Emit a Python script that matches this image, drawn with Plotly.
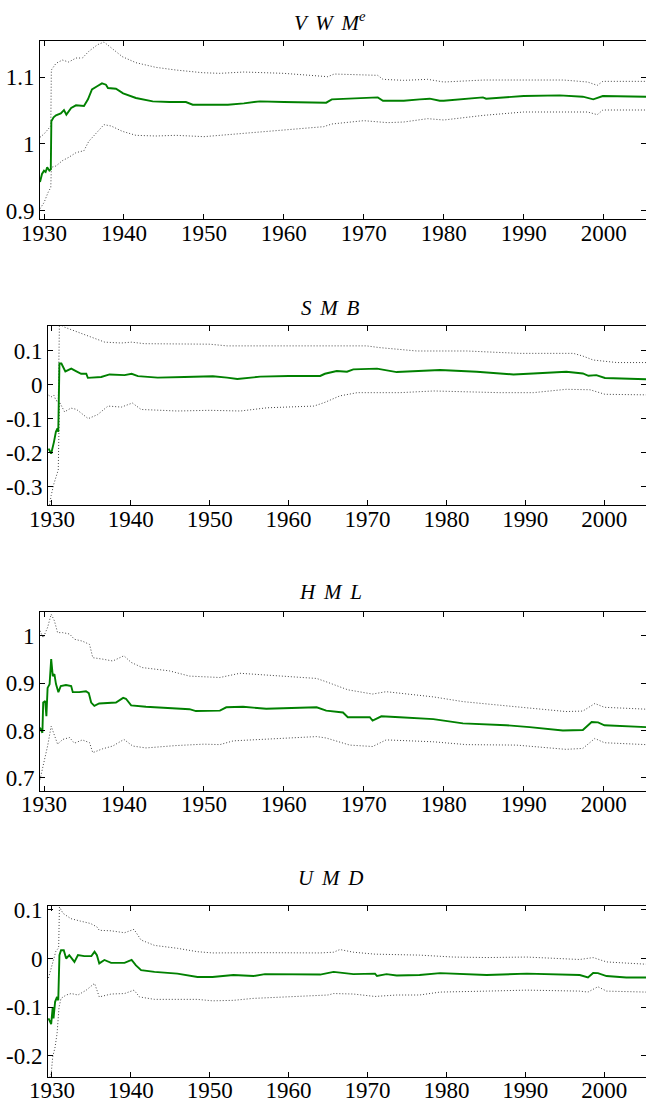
import plotly.graph_objects as go

# ---------------- data ----------------
vwm_t = [1929.5, 1929.75, 1930.0, 1930.2, 1930.4, 1930.67, 1930.85, 1930.92, 1931.2, 1931.5,
         1932.1, 1932.5, 1932.8, 1933.1, 1933.4, 1934.0, 1934.6, 1935.0, 1935.5, 1936.0,
         1936.7, 1937.25, 1937.75, 1938.0, 1939.0, 1939.9, 1941.5, 1943.6, 1945.7, 1947.75,
         1948.6, 1950.3, 1953.0, 1955.0, 1957.0, 1960.0, 1965.0, 1965.3, 1966.0, 1970.0,
         1971.75, 1972.4, 1975.0, 1977.0, 1978.25, 1979.5, 1980.0, 1984.9, 1985.3, 1990.0,
         1994.5, 1997.4, 1998.7, 1999.9, 2002.0, 2005.3]
vwm_est = [0.943, 0.955, 0.960, 0.958, 0.965, 0.960, 0.962, 1.034, 1.040, 1.043,
           1.046, 1.051, 1.044, 1.050, 1.054, 1.058, 1.058, 1.057, 1.067, 1.082,
           1.087, 1.091, 1.089, 1.084, 1.083, 1.076, 1.069, 1.064, 1.063, 1.063,
           1.059, 1.059, 1.059, 1.061, 1.064, 1.063, 1.063, 1.062, 1.067, 1.069,
           1.070, 1.065, 1.065, 1.067, 1.068, 1.065, 1.065, 1.070, 1.068, 1.072,
           1.073, 1.071, 1.067, 1.072, 1.072, 1.071]
vwm_hi_t = [1929.5, 1930.0, 1930.5, 1930.85, 1930.92, 1931.5, 1932.3, 1933.1, 1934.0, 1934.8,
            1935.6, 1936.7, 1937.5, 1938.4, 1939.8, 1941.5, 1944.0, 1946.5, 1949.8, 1952.0,
            1955.0, 1960.0, 1965.0, 1965.5, 1966.3, 1970.0, 1971.75, 1972.4, 1975.0, 1978.0,
            1980.0, 1985.0, 1990.0, 1995.0, 1998.0, 1999.2, 1999.9, 2005.3]
vwm_hi = [1.010, 1.015, 1.022, 1.027, 1.111, 1.121, 1.126, 1.123, 1.129, 1.129,
          1.139, 1.149, 1.153, 1.144, 1.131, 1.122, 1.115, 1.111, 1.107, 1.106,
          1.108, 1.106, 1.101, 1.101, 1.105, 1.104, 1.103, 1.097, 1.0955, 1.097,
          1.093, 1.096, 1.096, 1.096, 1.093, 1.088, 1.094, 1.094]
vwm_lo_t = [1929.5, 1930.0, 1930.5, 1930.85, 1930.92, 1931.5, 1932.3, 1933.1, 1934.0, 1935.0,
            1935.6, 1936.7, 1937.5, 1938.4, 1939.8, 1941.5, 1944.0, 1946.5, 1950.0, 1955.0,
            1960.0, 1965.0, 1966.0, 1970.0, 1973.0, 1975.0, 1978.0, 1980.0, 1985.0, 1990.0,
            1995.0, 1998.0, 1999.2, 1999.9, 2005.3]
vwm_lo = [0.903, 0.912, 0.927, 0.935, 0.965, 0.967, 0.975, 0.980, 0.987, 0.990,
          1.004, 1.019, 1.029, 1.027, 1.019, 1.013, 1.012, 1.013, 1.011, 1.016,
          1.021, 1.026, 1.030, 1.035, 1.032, 1.033, 1.038, 1.036, 1.043, 1.048,
          1.048, 1.048, 1.044, 1.051, 1.051]

smb_t = [1929.58, 1929.9, 1930.25, 1930.5, 1930.7, 1930.8, 1930.95, 1931.2, 1931.7, 1932.45,
         1933.1, 1933.7, 1934.35, 1934.55, 1936.25, 1937.3, 1939.2, 1940.1, 1940.9, 1943.4,
         1946.8, 1948.8, 1950.4, 1952.2, 1953.5, 1956.4, 1960.0, 1964.0, 1964.6, 1966.1,
         1967.4, 1968.2, 1971.2, 1973.7, 1979.2, 1983.85, 1988.5, 1991.0, 1995.2, 1997.3,
         1998.0, 1999.0, 2000.1, 2005.3]
smb_est = [-0.187, -0.202, -0.168, -0.138, -0.128, -0.138, 0.063, 0.063, 0.040, 0.048,
           0.040, 0.033, 0.033, 0.021, 0.0235, 0.031, 0.029, 0.033, 0.026, 0.0216,
           0.0235, 0.0245, 0.0255, 0.0216, 0.0176, 0.0245, 0.0265, 0.0265, 0.033, 0.041,
           0.039, 0.046, 0.048, 0.038, 0.044, 0.039, 0.031, 0.034, 0.039, 0.034,
           0.027, 0.029, 0.0206, 0.017]
smb_hi_t = [1929.58, 1929.9, 1930.25, 1930.5, 1930.8, 1930.95, 1931.6, 1933.3, 1935.0, 1936.7,
            1938.8, 1940.1, 1941.7, 1945.9, 1950.0, 1952.2, 1961.5, 1969.9, 1971.5, 1976.25,
            1982.6, 1989.3, 1996.1, 1997.3, 1998.6, 2001.6, 2005.3]
smb_hi = [-0.030, -0.035, -0.030, -0.045, -0.050, 0.180, 0.170, 0.156, 0.141, 0.126,
          0.1235, 0.126, 0.1215, 0.120, 0.120, 0.115, 0.115, 0.115, 0.110, 0.100,
          0.100, 0.093, 0.093, 0.085, 0.0735, 0.066, 0.066]
smb_lo_t = [1929.58, 1929.9, 1930.25, 1930.5, 1930.8, 1930.95, 1931.6, 1932.4, 1933.1, 1934.6,
            1935.8, 1937.1, 1938.8, 1940.2, 1941.3, 1945.9, 1950.0, 1953.9, 1957.3, 1963.2,
            1964.5, 1966.5, 1968.7, 1974.1, 1978.4, 1986.8, 1991.0, 1995.2, 1998.2, 2000.1,
            2005.3]
smb_lo = [-0.370, -0.325, -0.290, -0.270, -0.250, -0.050, -0.079, -0.068, -0.0716, -0.099,
          -0.087, -0.062, -0.065, -0.053, -0.072, -0.0765, -0.0745, -0.0765, -0.067, -0.062,
          -0.052, -0.032, -0.0226, -0.0226, -0.0176, -0.0226, -0.0226, -0.0127, -0.014, -0.0274,
          -0.029]

hml_t = [1929.5, 1929.8, 1929.9, 1930.15, 1930.3, 1930.45, 1930.7, 1930.9, 1931.1, 1931.3,
         1931.5, 1931.8, 1932.1, 1932.75, 1933.4, 1933.6, 1934.4, 1935.25, 1935.6, 1935.9,
         1936.3, 1936.9, 1939.0, 1939.9, 1940.25, 1940.9, 1942.75, 1945.7, 1948.2, 1949.0,
         1952.0, 1952.8, 1954.9, 1957.8, 1964.1, 1965.3, 1967.4, 1968.0, 1970.75, 1971.1,
         1972.2, 1974.5, 1978.7, 1982.4, 1987.8, 1990.75, 1994.9, 1997.4, 1998.5, 1999.3,
         2000.1, 2005.3]
hml_est = [0.806, 0.795, 0.859, 0.862, 0.830, 0.890, 0.898, 0.951, 0.915, 0.919,
           0.898, 0.881, 0.894, 0.896, 0.894, 0.881, 0.881, 0.883, 0.879, 0.859,
           0.852, 0.857, 0.859, 0.869, 0.867, 0.853, 0.850, 0.848, 0.845, 0.841,
           0.842, 0.849, 0.850, 0.846, 0.849, 0.842, 0.838, 0.828, 0.828, 0.821,
           0.830, 0.828, 0.824, 0.815, 0.811, 0.807, 0.800, 0.801, 0.818, 0.817,
           0.811, 0.807]
hml_hi_t = [1929.5, 1929.9, 1930.45, 1930.9, 1931.3, 1931.7, 1932.35, 1933.2, 1933.8, 1934.8,
            1935.7, 1936.1, 1937.3, 1938.6, 1940.0, 1940.9, 1942.3, 1945.7, 1948.2, 1950.0,
            1952.0, 1954.5, 1957.8, 1964.1, 1965.3, 1968.0, 1971.1, 1972.8, 1978.7, 1982.4,
            1989.1, 1995.3, 1997.4, 1998.9, 2000.1, 2005.3]
hml_hi = [1.011, 0.996, 1.018, 1.046, 1.032, 1.007, 1.007, 1.004, 0.993, 0.989,
          0.982, 0.954, 0.951, 0.947, 0.958, 0.944, 0.933, 0.926, 0.915, 0.914,
          0.912, 0.921, 0.917, 0.910, 0.903, 0.886, 0.877, 0.882, 0.871, 0.861,
          0.850, 0.840, 0.841, 0.857, 0.849, 0.845]
hml_lo_t = [1929.5, 1929.9, 1930.45, 1930.9, 1931.3, 1931.7, 1932.35, 1933.2, 1933.8, 1934.8,
            1935.7, 1936.1, 1937.3, 1938.6, 1940.0, 1941.1, 1942.75, 1946.5, 1950.0, 1952.0,
            1953.7, 1964.1, 1965.3, 1968.25, 1971.1, 1972.8, 1978.7, 1982.8, 1989.1, 1995.3,
            1997.4, 1998.9, 2000.1, 2005.3]
hml_lo = [0.696, 0.725, 0.767, 0.809, 0.792, 0.771, 0.781, 0.785, 0.773, 0.780,
          0.774, 0.753, 0.761, 0.767, 0.781, 0.767, 0.763, 0.768, 0.771, 0.770,
          0.778, 0.787, 0.784, 0.769, 0.766, 0.780, 0.776, 0.770, 0.769, 0.760,
          0.762, 0.783, 0.774, 0.770]

umd_t = [1929.56, 1929.9, 1930.1, 1930.2, 1930.4, 1930.65, 1930.8, 1930.95, 1931.15, 1931.5,
         1931.8, 1932.2, 1932.85, 1933.3, 1934.1, 1935.0, 1935.4, 1935.7, 1936.0, 1936.65,
         1937.5, 1939.2, 1940.1, 1940.65, 1941.3, 1943.0, 1945.9, 1948.45, 1950.35, 1953.0,
         1955.55, 1957.0, 1964.0, 1965.7, 1968.2, 1970.95, 1971.2, 1972.4, 1973.7, 1976.6,
         1979.2, 1985.1, 1990.2, 1996.9, 1997.95, 1998.6, 1999.2, 2000.3, 2002.8, 2005.3]
umd_est = [-0.123, -0.135, -0.100, -0.123, -0.089, -0.079, -0.086, 0.007, 0.017, 0.017,
           0.000, 0.007, -0.007, 0.007, 0.005, 0.005, 0.014, 0.007, -0.010, -0.003,
           -0.009, -0.009, -0.003, -0.014, -0.024, -0.0275, -0.031, -0.038, -0.038, -0.034,
           -0.036, -0.032, -0.033, -0.0275, -0.032, -0.031, -0.036, -0.032, -0.035, -0.034,
           -0.030, -0.034, -0.031, -0.034, -0.039, -0.0296, -0.030, -0.036, -0.039, -0.039]
umd_hi_t = [1929.56, 1929.9, 1930.2, 1930.5, 1930.85, 1930.95, 1931.4, 1932.4, 1933.6, 1934.9,
            1935.7, 1936.0, 1937.5, 1939.2, 1940.4, 1941.3, 1943.0, 1945.9, 1948.45, 1950.35,
            1957.0, 1964.0, 1965.7, 1966.5, 1968.2, 1970.95, 1976.6, 1980.9, 1985.1, 1990.2,
            1996.9, 1998.6, 2000.3, 2005.3]
umd_hi = [-0.040, -0.020, 0.000, 0.015, 0.022, 0.106, 0.093, 0.082, 0.077, 0.072,
          0.065, 0.058, 0.057, 0.053, 0.060, 0.038, 0.027, 0.021, 0.014, 0.0115,
          0.012, 0.0115, 0.013, 0.0185, 0.013, 0.009, 0.007, 0.003, 0.002, 0.003,
          -0.002, 0.002, -0.007, -0.0117]
umd_lo_t = [1929.56, 1929.9, 1930.1, 1930.4, 1930.65, 1930.9, 1931.15, 1931.8, 1932.45, 1933.3,
            1934.35, 1935.4, 1936.0, 1937.5, 1939.2, 1940.4, 1941.1, 1943.0, 1945.9, 1948.45,
            1950.35, 1953.0, 1955.5, 1960.0, 1965.0, 1965.7, 1968.2, 1970.95, 1973.7, 1976.6,
            1979.2, 1985.1, 1990.2, 1996.9, 1997.95, 1999.2, 2000.3, 2005.3]
umd_lo = [-0.250, -0.237, -0.202, -0.182, -0.154, -0.100, -0.082, -0.075, -0.072, -0.075,
          -0.065, -0.051, -0.079, -0.073, -0.072, -0.065, -0.079, -0.084, -0.084, -0.084,
          -0.087, -0.086, -0.082, -0.079, -0.075, -0.072, -0.073, -0.078, -0.075, -0.075,
          -0.069, -0.067, -0.065, -0.067, -0.069, -0.058, -0.067, -0.069]

SP = " \u2006"  # word gap used in the math-italic titles
titles = [f"<i>V{SP}W{SP}M<sup>e</sup></i>", f"<i>S{SP}M{SP}B</i>",
          f"<i>H{SP}M{SP}L</i>", f"<i>U{SP}M{SP}D</i>"]
x_ticks = [1930, 1940, 1950, 1960, 1970, 1980, 1990, 2000]
y_tickvals = [[0.9, 1.0, 1.1], [-0.3, -0.2, -0.1, 0.0, 0.1], [0.7, 0.8, 0.9, 1.0], [-0.2, -0.1, 0.0, 0.1]]
y_ticktext = [["0.9", "1", "1.1"], ["-0.3", "-0.2", "-0.1", "0", "0.1"], ["0.7", "0.8", "0.9", "1"], ["-0.2", "-0.1", "0", "0.1"]]

# ---------------- layout geometry (pixels) ----------------
W, H = 646, 1102
panels_px = [  # left, top, bottom
    (40, 40.7, 219.3),
    (48, 326.0, 505.0),
    (40, 612.3, 790.7),
    (48, 906.0, 1076.7),
]
y_ranges = [[0.887, 1.155], [-0.353, 0.1735], [0.6725, 1.05], [-0.243, 0.108]]
x_range = [1929.5, 2005.3]
title_y_px = [21, 308, 592, 878]

series = [
    (vwm_t, vwm_est, vwm_hi_t, vwm_hi, vwm_lo_t, vwm_lo),
    (smb_t, smb_est, smb_hi_t, smb_hi, smb_lo_t, smb_lo),
    (hml_t, hml_est, hml_hi_t, hml_hi, hml_lo_t, hml_lo),
    (umd_t, umd_est, umd_hi_t, umd_hi, umd_lo_t, umd_lo),
]

FONT = "'Liberation Serif', 'Times New Roman', serif"
GREEN = "rgb(0,128,0)"
DOT = "rgb(70,70,70)"
TICKSIZE = 23

fig = go.Figure()
layout = dict(template="none", width=W, height=H, autosize=False,
              margin=dict(l=0, r=0, t=0, b=0, pad=0, autoexpand=False),
              paper_bgcolor="white", plot_bgcolor="white",
              showlegend=False, font=dict(family=FONT, size=21, color="black"))
annotations = []

for i, (t, est, hi_t, hi, lo_t, lo) in enumerate(series):
    n = i + 1
    xa = "x" if n == 1 else f"x{n}"
    ya = "y" if n == 1 else f"y{n}"
    yr = f"y{n + 4}"
    for xs, ys in ((hi_t, hi), (lo_t, lo)):
        fig.add_trace(go.Scatter(x=xs, y=ys, mode="lines", xaxis=xa, yaxis=ya,
                                 line=dict(color=DOT, width=1, dash="1px,2px"),
                                 hoverinfo="skip"))
    fig.add_trace(go.Scatter(x=t, y=est, mode="lines", xaxis=xa, yaxis=ya,
                             line=dict(color=GREEN, width=1.9)))
    fig.add_trace(go.Scatter(x=[None], y=[None], xaxis=xa, yaxis=yr, showlegend=False,
                             hoverinfo="skip"))

    left, top, bottom = panels_px[i]
    xdom = [left / W, 1.0]
    ydom = [1 - bottom / H, 1 - top / H]
    xkey = "xaxis" if n == 1 else f"xaxis{n}"
    ykey = "yaxis" if n == 1 else f"yaxis{n}"
    layout[xkey] = dict(domain=xdom, anchor=ya, range=x_range, automargin=False,
                        tickmode="array", tickvals=x_ticks, ticktext=[str(v) for v in x_ticks],
                        ticks="inside", ticklen=5, tickwidth=1, tickcolor="black",
                        ticklabelstandoff=-7,
                        showline=True, linecolor="black", linewidth=1, mirror="ticks",
                        showgrid=False, zeroline=False,
                        tickfont=dict(family=FONT, size=TICKSIZE, color="black"))
    layout[ykey] = dict(domain=ydom, anchor=xa, range=y_ranges[i], automargin=False,
                        tickmode="array", tickvals=y_tickvals[i], ticktext=y_ticktext[i],
                        ticks="inside", ticklen=5, tickwidth=1, tickcolor="black",
                        showline=True, linecolor="black", linewidth=1, mirror=False,
                        showgrid=False, zeroline=False,
                        tickfont=dict(family=FONT, size=TICKSIZE, color="black"))
    layout[f"yaxis{n + 4}"] = dict(overlaying=ya, side="right", anchor=xa, range=y_ranges[i],
                                   automargin=False, tickmode="array", tickvals=y_tickvals[i],
                                   ticks="inside", ticklen=5, tickwidth=1,
                                   tickcolor="black", showticklabels=False, showline=False,
                                   showgrid=False, zeroline=False)
    annotations.append(dict(text=titles[i], x=330 / W, y=1 - title_y_px[i] / H,
                            xref="paper", yref="paper", xanchor="center", yanchor="middle",
                            showarrow=False, font=dict(family=FONT, size=21, color="black")))

layout["annotations"] = annotations
fig.update_layout(**layout)
fig.write_html("out.html", config={"displayModeBar": False},
               post_script="document.body.style.margin='0';document.body.style.overflow='hidden';")
